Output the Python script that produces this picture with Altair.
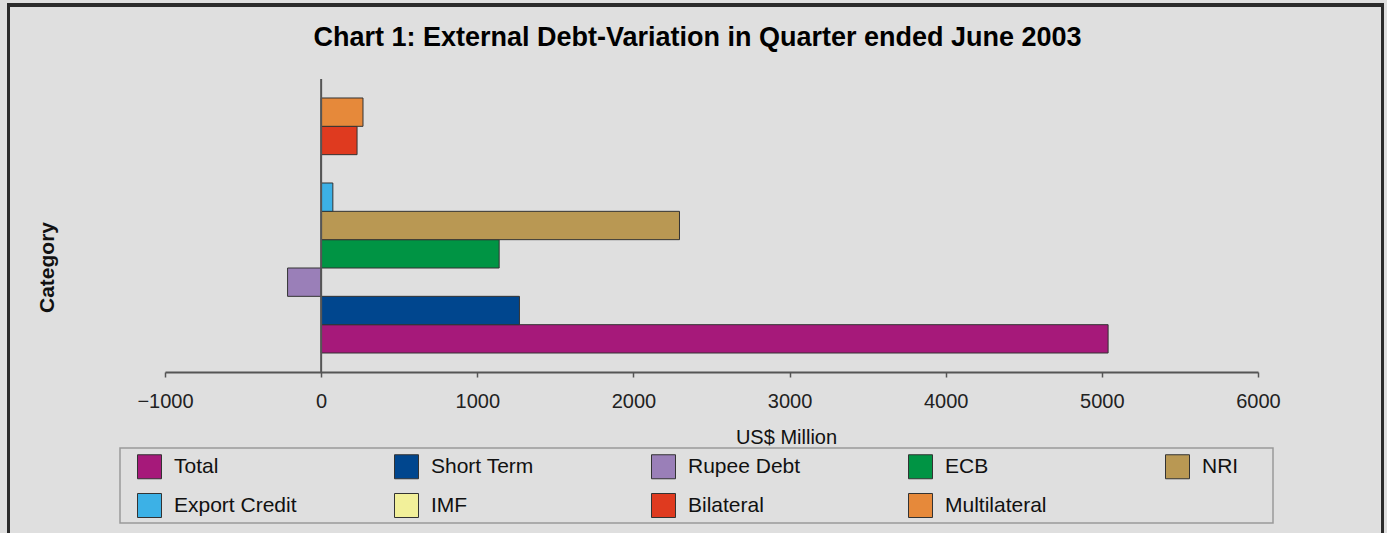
import altair as alt
import pandas as pd

# ---- data ----
series = ["Total", "Short Term", "Rupee Debt", "ECB", "NRI",
          "Export Credit", "IMF", "Bilateral", "Multilateral"]
values = [5040, 1270, -215, 1140, 2295, 75, 0, 230, 268]
colors = ["#a6197a", "#00468e", "#9a7fb8", "#009444", "#b99853",
          "#3cb1e6", "#f2f09a", "#df3a1f", "#e6893a"]
x_ticks = [-1000, 0, 1000, 2000, 3000, 4000, 5000, 6000]

FONT = "Liberation Sans"
W, H = 1093, 293

df = pd.DataFrame({"series": series, "value": values})

bars = alt.Chart(df).mark_bar(stroke="#333333", strokeWidth=1).encode(
    x=alt.X(
        "value:Q",
        scale=alt.Scale(domain=[-1000, 6000], nice=False, zero=False),
        axis=alt.Axis(
            values=x_ticks, format="d", title="US$ Million", grid=False,
            labelFlush=False, labelFontSize=20, labelFont=FONT, labelColor="#222222",
            labelPadding=14, tickSize=5, tickColor="#555555", tickWidth=1.5,
            domainColor="#555555", domainWidth=2,
            titleFontSize=20, titleFont=FONT, titleFontWeight="normal",
            titleColor="#111111", titleX=621, titleY=65,
            titleBaseline="middle", titleAlign="center",
        ),
    ),
    y=alt.Y(
        "series:N",
        sort=list(reversed(series)),
        scale=alt.Scale(paddingInner=0, paddingOuter=0.67),
        axis=alt.Axis(
            title="Category", labels=False, ticks=False, domain=False, grid=False,
            titleFontSize=21, titleFont=FONT, titleFontWeight="bold",
            titleColor="#111111", titleAngle=270, titleX=-118, titleY=188,
            titleAlign="center", titleBaseline="middle",
        ),
    ),
    color=alt.Color(
        "series:N",
        scale=alt.Scale(domain=series, range=colors),
        legend=alt.Legend(
            title=None, orient="none", legendX=-28, legendY=375,
            direction="horizontal", columns=5, gridAlign="all",
            columnPadding=95, rowPadding=10, padding=0,
            symbolType="square", symbolSize=576, symbolStrokeColor="#333333",
            symbolStrokeWidth=1, symbolOpacity=1,
            labelFontSize=21, labelFont=FONT, labelColor="#111111",
            labelOffset=12, labelLimit=300,
        ),
    ),
)

zero_rule = alt.Chart(pd.DataFrame({"zero": [0]})).mark_rule(
    color="#555555", strokeWidth=2
).encode(x="zero:Q")

deco = pd.DataFrame({"k": [0]})
frame_top = alt.Chart(deco).mark_rule(color="#2b2b2b", strokeWidth=4).encode(
    x=alt.value(-158), x2=alt.value(1219), y=alt.value(-74))
frame_left = alt.Chart(deco).mark_rule(color="#2b2b2b", strokeWidth=3).encode(
    x=alt.value(-156.5), y=alt.value(-76), y2=alt.value(454))
frame_right = alt.Chart(deco).mark_rule(color="#2b2b2b", strokeWidth=3).encode(
    x=alt.value(1217.5), y=alt.value(-76), y2=alt.value(454))
legend_box = alt.Chart(deco).mark_rect(
    fillOpacity=0, stroke="#9a9a9a", strokeWidth=1.5
).encode(x=alt.value(-45), x2=alt.value(1108), y=alt.value(369), y2=alt.value(444))

chart = alt.layer(
    bars, zero_rule, legend_box, frame_top, frame_left, frame_right
).properties(
    width=W, height=H,
    title=alt.TitleParams(
        text="Chart 1:  External Debt-Variation in Quarter ended June  2003",
        font=FONT, fontSize=27, fontWeight="bold", color="#000000",
        anchor="middle", frame="group", offset=0, dx=-14, dy=71,
        baseline="alphabetic",
    ),
    padding={"left": 165, "top": 79, "right": 129, "bottom": 161},
    autosize=alt.AutoSizeParams(type="none"),
    background="#dfdfdf",
).configure_view(strokeWidth=0)

chart.save("out.html", embed_options={"renderer": "svg", "actions": False})
